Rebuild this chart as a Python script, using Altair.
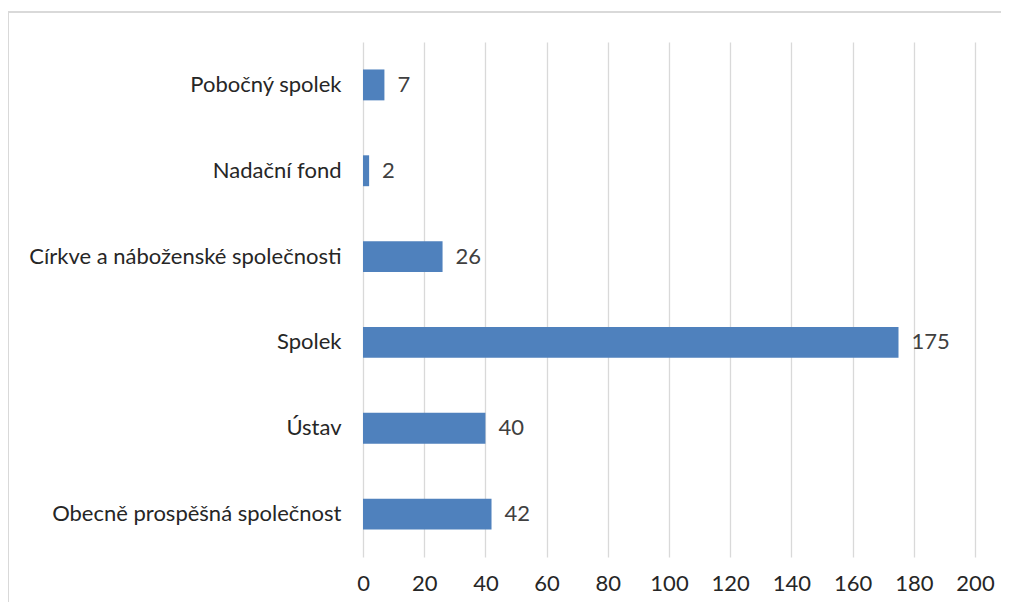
import altair as alt
import pandas as pd

categories = ["Pobočný spolek", "Nadační fond", "Církve a náboženské společnosti",
              "Spolek", "Ústav", "Obecně prospěšná společnost"]
values = [7, 2, 26, 175, 40, 42]
x_ticks = [0, 20, 40, 60, 80, 100, 120, 140, 160, 180, 200]

df = pd.DataFrame({"kategorie": categories, "pocet": values})

FONT = "Lato"
GRID = "#d9d9d9"
FS = 22

x = alt.X("pocet:Q", scale=alt.Scale(domain=[0, 200], nice=False),
          axis=alt.Axis(values=x_ticks, title=None, grid=True, gridColor=GRID, gridWidth=1.3,
                        domain=False, ticks=False, labelFont=FONT, labelFontSize=FS,
                        labelColor="#262626", labelPadding=16, labelFlush=False,
                        labelOverlap=False))
y = alt.Y("kategorie:N", sort=categories,
          scale=alt.Scale(paddingInner=0.64, paddingOuter=0.32),
          axis=alt.Axis(title=None, domain=False, ticks=False, labelFont=FONT, labelFontSize=FS,
                        labelColor="#262626", labelPadding=22, labelLimit=0))

bars = alt.Chart(df).mark_bar(color="#4F81BD").encode(x=x, y=y)
text = alt.Chart(df).mark_text(align="left", baseline="middle", dx=13, font=FONT,
                               fontSize=FS, color="#404040").encode(
    x="pocet:Q", y=alt.Y("kategorie:N", sort=categories), text="pocet:Q")

top_line = alt.Chart(df).mark_rule(stroke=GRID, strokeWidth=1.5).encode(
    x=alt.value(-355), x2=alt.value(700), y=alt.value(-30))
left_line = alt.Chart(df).mark_rule(stroke=GRID, strokeWidth=1.5).encode(
    x=alt.value(-355), y=alt.value(-30), y2=alt.value(700))

chart = alt.layer(top_line, left_line, bars, text).properties(
    width=612, height=515,
    padding={"left": 355, "top": 34, "right": 26, "bottom": 45},
    autosize=alt.AutoSizeParams(type="none"),
).configure_view(stroke=None)

chart.save("out.html", embed_options={"renderer": "svg", "actions": False})
